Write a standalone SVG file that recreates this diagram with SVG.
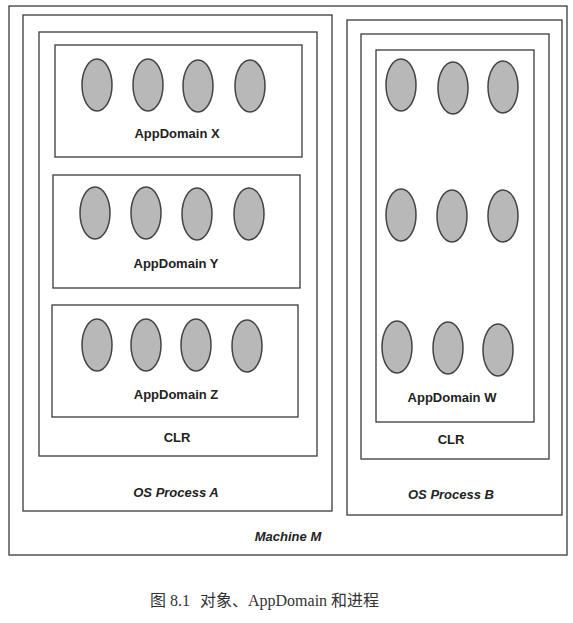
<svg xmlns="http://www.w3.org/2000/svg" width="573" height="623" viewBox="0 0 573 623">
<style>
.box{fill:none;stroke:#3a3a3a;stroke-width:1.3}
.obj{fill:#b8b8b8;stroke:#444;stroke-width:1.5}
.lbl{font-family:"Liberation Sans",Arial,sans-serif;font-weight:bold;font-size:13px;fill:#222;text-anchor:middle}
.it{font-family:"Liberation Sans",Arial,sans-serif;font-weight:bold;font-style:italic;font-size:13px;fill:#222;text-anchor:middle}
.cap{font-family:"Liberation Serif","Noto Sans CJK SC",serif;font-size:16px;fill:#333}
</style>
<rect width="573" height="623" fill="#fff"/>
<g id="machineM">
<rect class="box" x="9" y="6" width="558" height="549"/>
<text class="it" x="288" y="541">Machine M</text>
</g>
<g id="processA">
<rect class="box" x="23" y="15" width="309" height="496"/>
<text class="it" x="176" y="497">OS Process A</text>
</g>
<g id="clrA">
<rect class="box" x="39" y="32" width="278" height="424"/>
<text class="lbl" x="177" y="442">CLR</text>
</g>
<g id="appDomainX">
<rect class="box" x="55" y="45" width="247" height="112"/>
<ellipse class="obj" cx="97" cy="85" rx="15" ry="26"/>
<ellipse class="obj" cx="148" cy="85" rx="15" ry="26"/>
<ellipse class="obj" cx="198" cy="86" rx="15" ry="26"/>
<ellipse class="obj" cx="250" cy="86" rx="15" ry="26"/>
<text class="lbl" x="177" y="138">AppDomain X</text>
</g>
<g id="appDomainY">
<rect class="box" x="53" y="175" width="247" height="113"/>
<ellipse class="obj" cx="95" cy="213" rx="15" ry="26"/>
<ellipse class="obj" cx="146" cy="213" rx="15" ry="26"/>
<ellipse class="obj" cx="197" cy="214" rx="15" ry="26"/>
<ellipse class="obj" cx="249" cy="214" rx="15" ry="26"/>
<text class="lbl" x="176" y="268">AppDomain Y</text>
</g>
<g id="appDomainZ">
<rect class="box" x="52" y="305" width="246" height="112"/>
<ellipse class="obj" cx="97" cy="345" rx="15" ry="26"/>
<ellipse class="obj" cx="146" cy="345" rx="15" ry="26"/>
<ellipse class="obj" cx="196" cy="345" rx="15" ry="26"/>
<ellipse class="obj" cx="247" cy="346" rx="15" ry="26"/>
<text class="lbl" x="176" y="399">AppDomain Z</text>
</g>
<g id="processB">
<rect class="box" x="347" y="20" width="215" height="495"/>
<text class="it" x="451" y="499">OS Process B</text>
</g>
<g id="clrB">
<rect class="box" x="361" y="34" width="188" height="425"/>
<text class="lbl" x="451" y="444">CLR</text>
</g>
<g id="appDomainW">
<rect class="box" x="376" y="50" width="158" height="372"/>
<ellipse class="obj" cx="401" cy="85" rx="15" ry="26"/>
<ellipse class="obj" cx="453" cy="88" rx="15" ry="26"/>
<ellipse class="obj" cx="503" cy="87" rx="15" ry="26"/>
<ellipse class="obj" cx="401" cy="215" rx="15" ry="26"/>
<ellipse class="obj" cx="452" cy="216" rx="15" ry="26"/>
<ellipse class="obj" cx="503" cy="216" rx="15" ry="26"/>
<ellipse class="obj" cx="397" cy="347" rx="15" ry="26"/>
<ellipse class="obj" cx="448" cy="348" rx="15" ry="26"/>
<ellipse class="obj" cx="498" cy="350" rx="15" ry="26"/>
<text class="lbl" x="452" y="402">AppDomain W</text>
</g>
<text class="cap" y="606"><tspan x="150">图 8.1</tspan><tspan x="200">对象、AppDomain 和进程</tspan></text>
</svg>
